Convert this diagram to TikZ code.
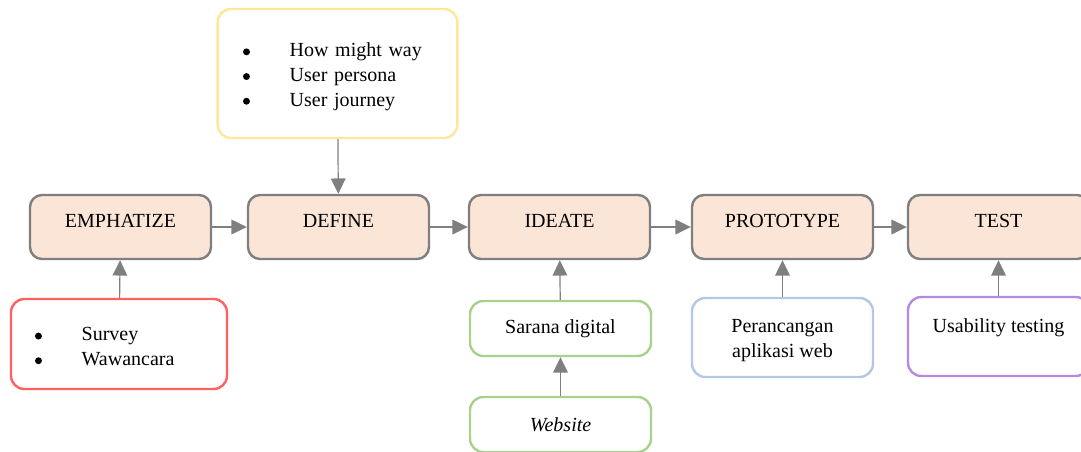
\documentclass[tikz,border=0pt]{standalone}
\usepackage{fontspec}
\setmainfont{Liberation Serif}
\usetikzlibrary{positioning,arrows.meta}

\definecolor{phasefill}{HTML}{FBE5D6}
\definecolor{phaseline}{HTML}{7F7F7F}
\definecolor{redline}{HTML}{FF6161}
\definecolor{yellowline}{HTML}{FFE699}
\definecolor{greenline}{HTML}{A9D18E}
\definecolor{blueline}{HTML}{B4C7E7}
\definecolor{purpleline}{HTML}{B48BE0}

\newcommand{\bul}[1]{\makebox[35pt][l]{\tikz[baseline=-3.6pt]\fill (2.6pt,0) circle (2.6pt);}#1}

\tikzset{
  phase/.style={rectangle, rounded corners=9pt, draw=phaseline, fill=phasefill, line width=1.8pt,
    minimum width=135.75pt, minimum height=48pt, text height=10pt, text depth=9.4pt},
  note/.style={rectangle, rounded corners=10pt, draw=#1, line width=1.8pt, align=center},
  flow/.style={draw=phaseline, line width=0.9pt, -{Triangle[length=11.5pt,width=11pt]}}
}

\begin{document}
\begin{tikzpicture}[x=0.75pt, y=-0.75pt, font=\fontsize{15pt}{18.5pt}\selectfont]
    \useasboundingbox (0,0) rectangle (1081,451);

    % design thinking phases
    \node[phase] (emph)   at (120.5,227) {EMPHATIZE};
    \node[phase] (define) at (338.5,227) {DEFINE};
    \node[phase] (ideate) at (559.5,227) {IDEATE};
    \node[phase] (proto)  at (782.5,227) {PROTOTYPE};
    \node[phase] (test)   at (998.5,227) {TEST};

    % activities
    \node[note=yellowline, minimum height=96.75pt, text width=141.75pt, inner xsep=19pt, align=left] (persona) at (337.5,73.5)
      {\rule{0pt}{15pt}\bul{How might way}\\ \bul{User persona}\\ \bul{User journey}};
    \node[note=redline, minimum height=67.5pt, text width=126pt, inner xsep=18pt, align=left] (survey) at (119,344)
      {\rule{0pt}{14pt}\bul{Survey}\\ \bul{Wawancara}};
    \node[note=greenline, minimum width=135.75pt, minimum height=41.25pt] (sarana) at (560.5,328.5) {Sarana digital};
    \node[note=greenline, minimum width=135.75pt, minimum height=41.25pt] (web) at (560.5,424.5) {\textit{Website}};
    \node[note=blueline, minimum width=135.75pt, minimum height=59.25pt] (rancang) at (782.5,337.5) {\rule{0pt}{14.5pt}Perancangan\\ aplikasi web};
    \node[note=purpleline, minimum width=135.75pt, minimum height=59.25pt, text height=10pt, text depth=15.4pt] (usab) at (998.5,336.5) {Usability testing};

    \draw[flow] (emph) -- (define);
    \draw[flow] (define) -- (ideate);
    \draw[flow] (ideate) -- (proto);
    \draw[flow] (proto) -- (test);

    \draw[flow] (persona) -- (define);
    \draw[flow] (survey) -- (emph);
    \draw[flow] (sarana) -- (ideate);
    \draw[flow] (web) -- (sarana);
    \draw[flow] (rancang) -- (proto);
    \draw[flow] (usab) -- (test);
\end{tikzpicture}
\end{document}
